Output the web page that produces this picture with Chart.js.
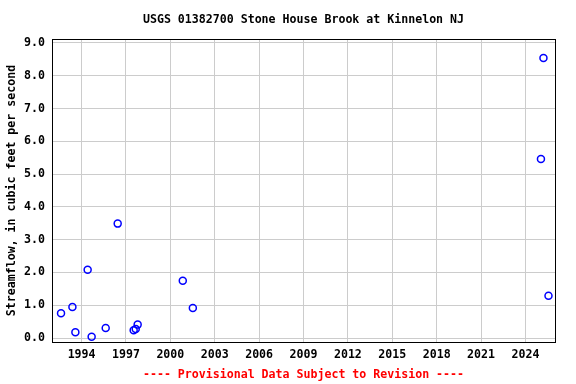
<!DOCTYPE html>
<html>
<head>
<meta charset="utf-8">
<script src="https://cdn.jsdelivr.net/npm/chart.js@4/dist/chart.umd.min.js"></script>
<style>
html,body{margin:0;padding:0;background:#fff;}
#wrap{width:576px;height:384px;}
</style>
</head>
<body>
<div id="wrap"><canvas id="c" width="576" height="384"></canvas></div>
<script>
const titleText = "USGS 01382700 Stone House Brook at Kinnelon NJ";
const yTitle = "Streamflow, in cubic feet per second";
const noteText = "---- Provisional Data Subject to Revision ----";
const xTickYears = [1994, 1997, 2000, 2003, 2006, 2009, 2012, 2015, 2018, 2021, 2024];
const yTickValues = [0, 1, 2, 3, 4, 5, 6, 7, 8, 9];
const sampleDates = [1992.61, 1993.38, 1993.58, 1994.41, 1994.68, 1995.63, 1996.44, 1997.52, 1997.66, 1997.79, 2000.84, 2001.52, 2025.05, 2025.22, 2025.56];
const flowValues = [0.76, 0.95, 0.18, 2.08, 0.04, 0.31, 3.49, 0.24, 0.28, 0.41, 1.75, 0.92, 5.46, 8.54, 1.29];

const FONT = "'DejaVu Sans Mono', monospace";
const points = sampleDates.map((d, i) => ({x: d, y: flowValues[i]}));

const decor = {
  id: 'decor',
  afterDraw(chart) {
    const ctx = chart.ctx, a = chart.chartArea;
    ctx.save();
    ctx.strokeStyle = '#000';
    ctx.lineWidth = 1;
    ctx.strokeRect(Math.round(a.left) + 0.5, Math.round(a.top) + 0.5, Math.round(a.right - a.left), Math.round(a.bottom - a.top));
    const cx = (a.left + a.right) / 2;
    ctx.font = "bold 11.6px " + FONT;
    ctx.textAlign = 'center';
    ctx.textBaseline = 'middle';
    ctx.fillStyle = '#000';
    ctx.fillText(titleText, cx, 20);
    ctx.fillStyle = '#ff0000';
    ctx.fillText(noteText, cx, 375);
    ctx.fillStyle = '#000';
    ctx.translate(12, (a.top + a.bottom) / 2);
    ctx.rotate(-Math.PI / 2);
    ctx.fillText(yTitle, 0, 0);
    ctx.restore();
  }
};

new Chart(document.getElementById('c'), {
  type: 'scatter',
  data: {
    datasets: [{
      data: points,
      pointStyle: 'circle',
      pointRadius: 3.5,
      pointBorderWidth: 1.5,
      borderColor: '#0000ff',
      backgroundColor: 'rgba(255,255,255,0)',
      pointHoverRadius: 3.5
    }]
  },
  options: {
    responsive: false,
    animation: false,
    layout: {padding: {top: 39, right: 21, left: 0, bottom: 0}},
    plugins: {legend: {display: false}, tooltip: {enabled: false}, title: {display: false}},
    scales: {
      x: {
        type: 'linear',
        min: 1992,
        max: 2026,
        afterBuildTicks: s => { s.ticks = xTickYears.map(v => ({value: v})); },
        afterFit: s => { s.height = 42; },
        grid: {color: '#cccccc', drawTicks: false, lineWidth: 1},
        border: {display: false},
        ticks: {
          padding: 6,
          color: '#000',
          font: {family: FONT, size: 11.6, weight: 'bold'},
          callback: v => String(v),
          maxRotation: 0, autoSkip: false
        }
      },
      y: {
        type: 'linear',
        min: -0.12,
        max: 9.12,
        afterBuildTicks: s => { s.ticks = yTickValues.map(v => ({value: v})); },
        afterFit: s => { s.width = 52; },
        grid: {color: '#cccccc', drawTicks: false, lineWidth: 1},
        border: {display: false},
        ticks: {
          padding: 7,
          color: '#000',
          font: {family: FONT, size: 11.6, weight: 'bold'},
          callback: v => Number(v).toFixed(1),
          autoSkip: false
        }
      }
    }
  },
  plugins: [decor]
});
</script>
</body>
</html>
